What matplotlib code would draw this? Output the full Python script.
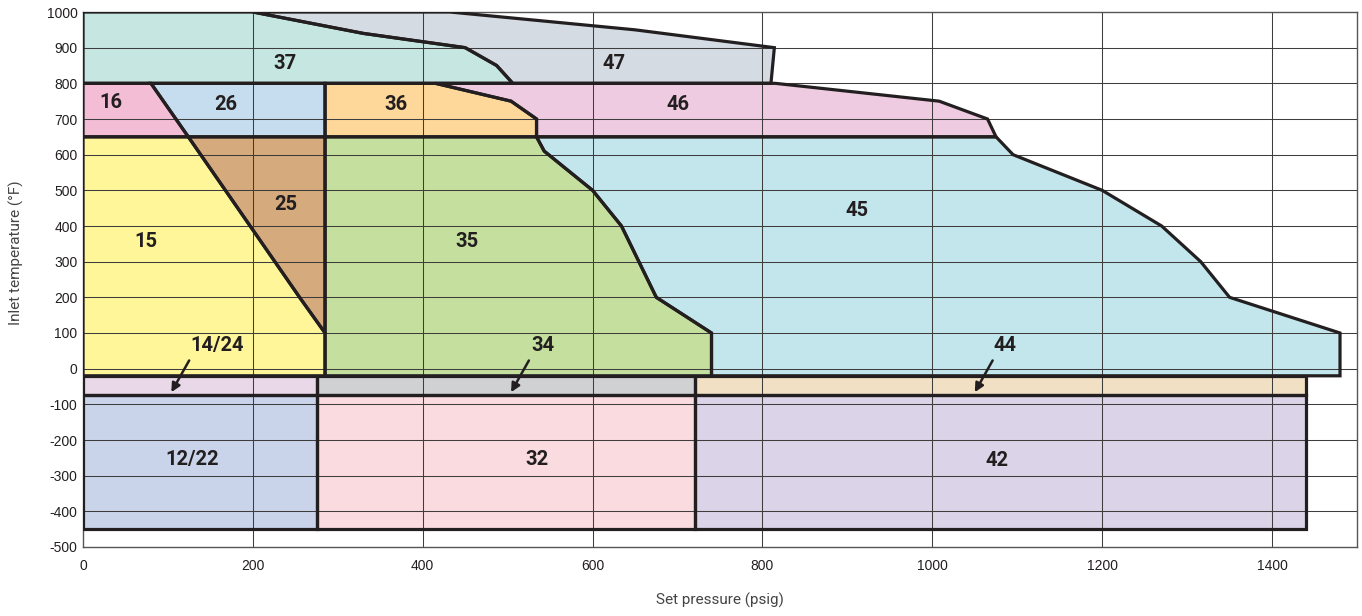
import matplotlib.pyplot as plt
from matplotlib.patches import Polygon

plt.rcParams['font.family'] = ['Liberation Sans', 'DejaVu Sans']
plt.rcParams['axes.unicode_minus'] = False

# temperature levels (degF) separating the bands
t_top = 1000
t_high = 800
t_mid = 650
t_low = -20
t_cryo = -75
t_bottom = -450

# boundary curves (set pressure psig, inlet temperature degF)
b16_x = [80, 124]
b16_y = [800, 650]
b15_x = [124, 255, 285]
b15_y = [650, 200, 100]
col2_x = 285
b37_x = [200, 330, 450, 487, 506]
b37_y = [1000, 940, 900, 850, 800]
top47_x = [432, 650, 814, 810]
top47_y = [1000, 950, 900, 800]
b36_x = [415, 504, 534, 534]
b36_y = [800, 750, 700, 650]
top46_x = [815, 1008, 1065, 1075]
top46_y = [800, 750, 700, 650]
b35_x = [534, 543, 587, 600, 634, 675, 740, 740]
b35_y = [650, 610, 525, 500, 400, 200, 100, -20]
top45_x = [1075, 1095, 1200, 1270, 1316, 1350, 1480, 1480]
top45_y = [650, 600, 500, 400, 300, 200, 100, -20]
low_cols = [0, 275, 720, 1440]

region_names = ["37", "47", "16", "26", "36", "46", "15", "25", "35", "45",
                "14/24", "34", "44", "12/22", "32", "42"]
region_colors = ["#c6e6e1", "#d4dbe2", "#f4bdd6", "#c6ddf0", "#fdd89a", "#efcbe1",
                 "#fff699", "#d5aa7c", "#c5e09e", "#c3e6ec",
                 "#e8d8e8", "#d0d1d3", "#f1e0c3", "#c9d4eb", "#fadbe0", "#dbd3e7"]
label_x = [238, 625, 33, 168, 368, 701, 74, 239, 452, 911,
           158, 542, 1086, 129, 535, 1076]
label_y = [857, 857, 745, 742, 742, 742, 356, 459, 356, 443,
           64, 64, 64, -255, -255, -258]

# arrows for the thin cryogenic bands (tail -> head)
arrow_tail_x = [125, 525, 1071]
arrow_tail_y = [23, 23, 23]
arrow_head_x = [104, 504, 1050]
arrow_head_y = [-66, -66, -66]


def pts(xs, ys):
    return list(zip(xs, ys))


# build polygons of every region
regions = {}
regions["37"] = [(0, t_top)] + pts(b37_x, b37_y) + [(0, t_high)]
regions["47"] = pts(b37_x, b37_y) + pts(top47_x[::-1], top47_y[::-1])
regions["16"] = [(0, t_high)] + pts(b16_x, b16_y) + [(0, t_mid)]
regions["26"] = [(b16_x[0], t_high), (col2_x, t_high), (col2_x, t_mid), (b16_x[1], t_mid)]
regions["36"] = [(col2_x, t_high)] + pts(b36_x, b36_y) + [(col2_x, t_mid)]
regions["46"] = pts(b36_x, b36_y) + pts(top46_x[::-1], top46_y[::-1])
regions["15"] = [(0, t_mid)] + pts(b15_x, b15_y) + [(col2_x, t_low), (0, t_low)]
regions["25"] = pts(b15_x, b15_y) + [(col2_x, t_mid)]
regions["35"] = [(col2_x, t_mid)] + pts(b35_x, b35_y) + [(col2_x, t_low)]
regions["45"] = pts(b35_x, b35_y) + pts(top45_x[::-1], top45_y[::-1])
for i, name in enumerate(["14/24", "34", "44"]):
    regions[name] = [(low_cols[i], t_low), (low_cols[i + 1], t_low),
                     (low_cols[i + 1], t_cryo), (low_cols[i], t_cryo)]
for i, name in enumerate(["12/22", "32", "42"]):
    regions[name] = [(low_cols[i], t_cryo), (low_cols[i + 1], t_cryo),
                     (low_cols[i + 1], t_bottom), (low_cols[i], t_bottom)]

fig = plt.figure(figsize=(13.62, 6.16), dpi=100)
ax = fig.add_axes([83 / 1362, 1 - 547 / 616, 1274 / 1362, 535 / 616])

edge = "#231f20"
for name, color in zip(region_names, region_colors):
    ax.add_patch(Polygon(regions[name], closed=True, facecolor=color,
                         edgecolor="none", zorder=1))
    ax.add_patch(Polygon(regions[name], closed=True, fill=False,
                         edgecolor=edge, linewidth=2.3, joinstyle="miter", zorder=3))

for name, x, y in zip(region_names, label_x, label_y):
    ax.text(x, y, name, ha="center", va="center", fontsize=14.5,
            fontweight="bold", family="Roboto", color=edge, zorder=5)

for tx, ty, hx, hy in zip(arrow_tail_x, arrow_tail_y, arrow_head_x, arrow_head_y):
    ax.annotate("", xy=(hx, hy), xytext=(tx, ty), zorder=5,
                arrowprops=dict(arrowstyle="-|>", color=edge, lw=1.8,
                                mutation_scale=13, shrinkA=0, shrinkB=0))

# grid lines over the fills
for gx in range(200, 1500, 200):
    ax.axvline(gx, color="#3d3d3d", lw=0.75, zorder=2)
for gy in range(-400, 1000, 100):
    ax.axhline(gy, color="#3d3d3d", lw=0.75, zorder=2)

ax.set_xlim(0, 1500)
ax.set_ylim(-500, 1000)
ax.set_xticks(range(0, 1500, 200))
ax.set_yticks(range(-500, 1100, 100))
ax.tick_params(axis="both", length=0, labelsize=10, labelcolor=edge)
ax.tick_params(axis="x", pad=9)
ax.tick_params(axis="y", pad=4)
for sp in ax.spines.values():
    sp.set_color("#555555")
    sp.set_linewidth(1.0)

ax.set_xlabel("Set pressure (psig)", fontsize=11, family="Roboto",
              color="#444444", labelpad=14)
ax.set_ylabel("Inlet temperature (°F)", fontsize=11, family="Roboto",
              color="#444444")
ax.yaxis.set_label_coords(-0.046, 0.55)

plt.savefig("out.png", dpi=100)
